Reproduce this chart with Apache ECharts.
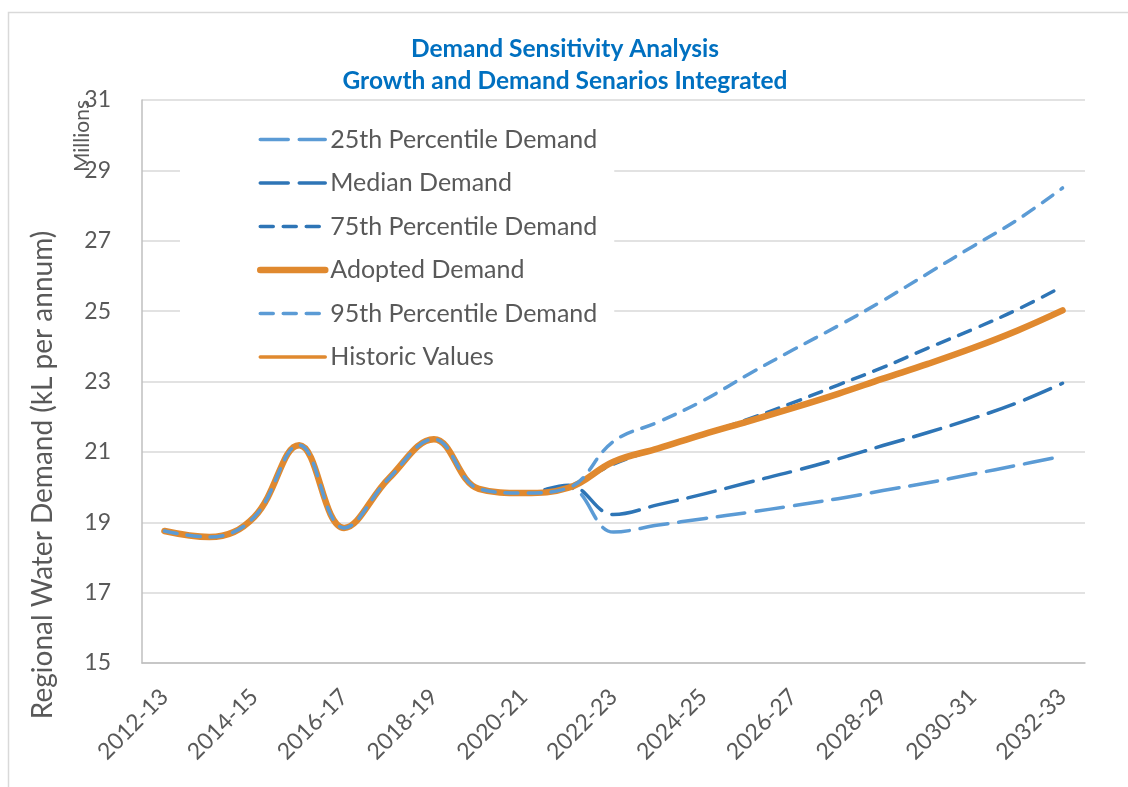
<!DOCTYPE html>
<html>
<head>
<meta charset="utf-8">
<script src="https://cdn.jsdelivr.net/npm/echarts@6/dist/echarts.min.js"></script>
<style>
    html, body { margin: 0; padding: 0; background: #fff; }
    #chart { width: 1128px; height: 787px; }
</style>
</head>
<body>
<div id="chart"></div>
<script>
// 财年
var years = ['2012-13', '2013-14', '2014-15', '2015-16', '2016-17', '2017-18', '2018-19',
    '2019-20', '2020-21', '2021-22', '2022-23', '2023-24', '2024-25', '2025-26', '2026-27',
    '2027-28', '2028-29', '2029-30', '2030-31', '2031-32', '2032-33'];

// 各情景需求 (Millions kL)
var p25 = [18.75, 18.58, 19.15, 21.19, 18.84, 20.25, 21.36, 19.95, 19.83, 19.98,
    18.72, 18.92, 19.10, 19.28, 19.47, 19.67, 19.90, 20.12, 20.37, 20.62, 20.88];
var median = [18.75, 18.58, 19.15, 21.19, 18.84, 20.25, 21.36, 19.95, 19.83, 20.05,
    19.22, 19.50, 19.80, 20.13, 20.45, 20.80, 21.18, 21.55, 21.95, 22.40, 22.95];
var p75 = [18.75, 18.58, 19.15, 21.19, 18.84, 20.25, 21.36, 19.95, 19.83, 20.02,
    20.65, 21.10, 21.50, 21.93, 22.40, 22.90, 23.40, 23.95, 24.48, 25.05, 25.70];
var adopted = [18.75, 18.58, 19.15, 21.19, 18.84, 20.25, 21.36, 19.95, 19.83, 19.98,
    20.72, 21.10, 21.50, 21.87, 22.25, 22.65, 23.08, 23.50, 23.95, 24.45, 25.02];
var p95 = [18.75, 18.58, 19.15, 21.19, 18.84, 20.25, 21.36, 19.95, 19.83, 19.98,
    21.30, 21.85, 22.46, 23.20, 23.90, 24.58, 25.30, 26.07, 26.84, 27.60, 28.50];
var historic = [18.75, 18.58, 19.15, 21.19, 18.84, 20.25, 21.36, 19.95, 19.83, 19.98];

var yMin = 15, yMax = 31, yStep = 2;

var lightBlue = '#5B9BD5';
var darkBlue = '#2E75B6';
var orange = '#E0892F';
var textGrey = '#595959';
var fontFam = 'Lato, "Open Sans", sans-serif';

var chart = echarts.init(document.getElementById('chart'));

function lineSeries(name, data, color, width, dash, z) {
    return {
        name: name,
        type: 'line',
        data: data,
        smooth: 0.4,
        symbol: 'none',
        z: z,
        color: color,
        lineStyle: { color: color, width: width, type: dash, cap: 'round', join: 'round' },
        itemStyle: { color: color },
        emphasis: { disabled: true }
    };
}

// 图例项 (线宽单独设置)
function legendItem(name, color, width, dash) {
    return { name: name, lineStyle: { color: color, width: width, type: dash, cap: 'round' } };
}

var option = {
    animation: false,
    title: {
        text: 'Demand Sensitivity Analysis\nGrowth and Demand Senarios Integrated',
        left: 560,
        top: 28,
        textAlign: 'center',
        textStyle: {
            fontFamily: fontFam,
            fontSize: 24.5,
            fontWeight: 'bold',
            color: '#0070C0',
            lineHeight: 32
        }
    },
    legend: {
        orient: 'vertical',
        left: 180,
        top: 109,
        padding: [18, 17, 11, 77],
        backgroundColor: '#fff',
        itemWidth: 65,
        itemHeight: 14,
        itemGap: 18.5,
        itemStyle: { opacity: 0 },
        textStyle: { fontFamily: fontFam, fontSize: 25, color: textGrey },
        data: [
            legendItem('25th Percentile Demand', lightBlue, 3.5, [28, 11]),
            legendItem('Median Demand', darkBlue, 3.5, [28, 11]),
            legendItem('75th Percentile Demand', darkBlue, 3.5, [13, 10]),
            legendItem('Adopted Demand', orange, 6.5, 'solid'),
            legendItem('95th Percentile Demand', lightBlue, 3.5, [13, 10]),
            legendItem('Historic Values', orange, 3.5, 'solid')
        ]
    },
    grid: { left: 142, right: 43, top: 100, bottom: 124 },
    xAxis: {
        type: 'category',
        data: years,
        boundaryGap: true,
        axisLine: { lineStyle: { color: '#BFBFBF', width: 1.5 } },
        axisTick: { show: false },
        axisLabel: {
            interval: 1,
            rotate: 45,
            margin: 30,
            fontFamily: fontFam,
            fontSize: 23,
            color: textGrey
        },
        splitLine: { show: false }
    },
    yAxis: {
        type: 'value',
        min: yMin,
        max: yMax,
        interval: yStep,
        axisLine: { show: true, lineStyle: { color: '#BFBFBF', width: 1.5 } },
        axisTick: { show: false },
        axisLabel: { margin: 31, fontFamily: fontFam, fontSize: 23, color: textGrey },
        splitLine: { lineStyle: { color: '#D9D9D9', width: 1.5 } }
    },
    graphic: [
        {
            type: 'rect',
            shape: { x: 8.5, y: 12.5, width: 1200, height: 900 },
            style: { fill: 'none', stroke: '#D9D9D9', lineWidth: 1.5 },
            silent: true
        },
        {
            type: 'text',
            x: 43, y: 475,
            rotation: Math.PI / 2,
            style: {
                text: 'Regional Water Demand (kL per annum)',
                fontFamily: fontFam, fontSize: 28, fill: textGrey,
                align: 'center', verticalAlign: 'middle'
            },
            silent: true
        },
        {
            type: 'text',
            x: 82, y: 100,
            rotation: Math.PI / 2,
            style: {
                text: 'Millions',
                font: '21px Lato',
                fill: textGrey,
                align: 'right', verticalAlign: 'middle'
            },
            silent: true
        }
    ],
    series: [
        lineSeries('Historic Values', historic, orange, 3.5, 'solid', 1),
        lineSeries('25th Percentile Demand', p25, lightBlue, 3.5, [28, 11], 2),
        lineSeries('Median Demand', median, darkBlue, 3.5, [28, 11], 2),
        lineSeries('75th Percentile Demand', p75, darkBlue, 3.5, [13, 10], 2),
        lineSeries('Adopted Demand', adopted, orange, 6.5, 'solid', 3),
        lineSeries('95th Percentile Demand', p95, lightBlue, 3.5, [13, 10], 4)
    ]
};

chart.setOption(option);
</script>
</body>
</html>
